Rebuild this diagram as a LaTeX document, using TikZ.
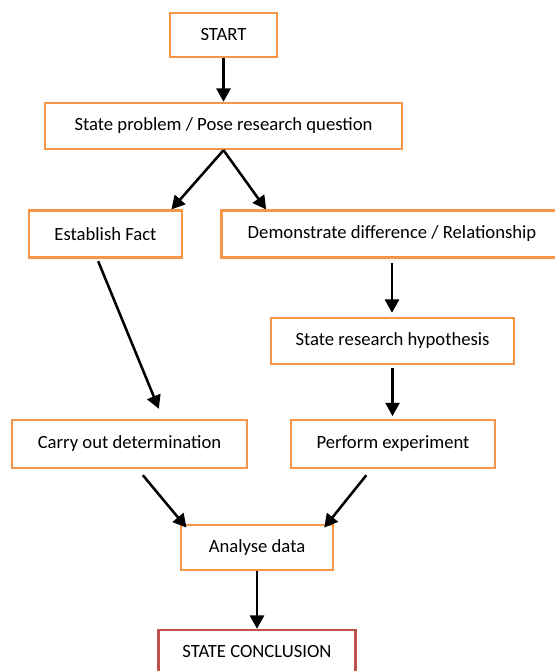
\documentclass[tikz,border=0pt]{standalone}
\usepackage{fontspec}
\setmainfont{Carlito}
\usepackage{tikz}
\usetikzlibrary{arrows.meta,positioning}
\definecolor{fcorange}{HTML}{F79646}
\definecolor{fcred}{HTML}{C0504D}
\tikzset{
  box/.style={draw=fcorange,line width=1.8pt,fill=white,align=center,
              inner sep=0pt,font=\fontsize{14}{16}\selectfont},
  endbox/.style={box,draw=fcred},
  ar/.style={-{Triangle[length=10pt,width=10.5pt]},line width=1.9pt,black},
}
\begin{document}
\begin{tikzpicture}[x=0.75pt,y=-0.75pt]
    \useasboundingbox (0,0) rectangle (555,671);
    \node[box,minimum width=80pt,minimum height=33pt] (st) at (223.5,35) {START};
    \node[box,minimum width=268pt,minimum height=34.5pt] (prob) at (223.5,126) {State problem / Pose research question};
    \node[box,minimum width=115pt,minimum height=35pt] (fact) at (105.5,234) {Establish Fact};
    \node[box,minimum width=256pt,minimum height=35pt] (diff) at (392,234) {Demonstrate difference / Relationship};
    \node[box,minimum width=182pt,minimum height=34.5pt] (hyp) at (392.5,341) {State research hypothesis};
    \node[box,minimum width=176pt,minimum height=36pt] (carry) at (129.5,444) {Carry out determination};
    \node[box,minimum width=153pt,minimum height=36pt] (perf) at (393,444) {Perform experiment};
    \node[box,minimum width=114pt,minimum height=34pt] (ana) at (257,547.5) {Analyse data};
    \node[endbox,minimum width=148pt,minimum height=33pt] (concl) at (257,652) {STATE CONCLUSION};
    \draw[ar] (st) -- (prob);
    \draw[ar] (prob.south) -- ([xshift=-9pt]fact.north east);
    \draw[ar] (prob.south) -- ([xshift=34.5pt]diff.north west);
    \draw[ar] ([xshift=-5.5pt,yshift=-2pt]fact.south) -- ([xshift=22pt,yshift=7.5pt]carry.north);
    \draw[ar,shorten <=3pt,shorten >=3pt] (diff.south) -- (diff.south |- hyp.north);
    \draw[ar,shorten <=2pt,shorten >=2pt] (hyp) -- (hyp.south |- perf.north);
    \draw[ar] ([xshift=10pt,yshift=-4.5pt]carry.south) -- ([xshift=5pt,yshift=-3pt]ana.north west);
    \draw[ar] ([xshift=-20pt,yshift=-4.5pt]perf.south) -- ([xshift=-7.5pt,yshift=-3pt]ana.north east);
    \draw[ar] (ana) -- (concl);
\end{tikzpicture}
\end{document}
